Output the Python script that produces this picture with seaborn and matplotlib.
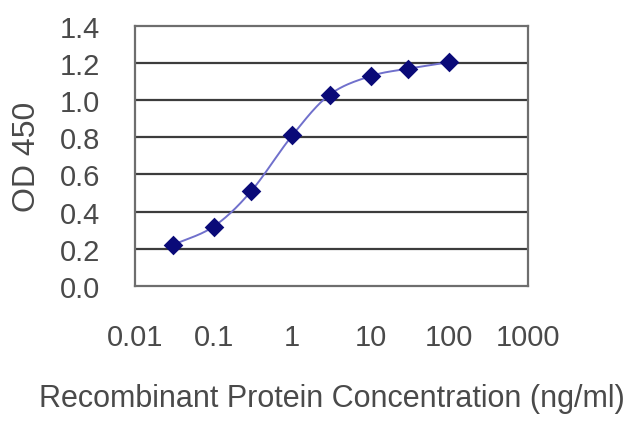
import numpy as np
import pandas as pd
import matplotlib
matplotlib.use("Agg")
import matplotlib.pyplot as plt
import seaborn as sns

# values
concentration = [0.03, 0.1, 0.3, 1, 3, 10, 30, 100]
od450 = [0.22, 0.32, 0.51, 0.81, 1.03, 1.13, 1.17, 1.205]
x_ticks = [0.01, 0.1, 1, 10, 100, 1000]
x_tick_labels = ["0.01", "0.1", "1", "10", "100", "1000"]
y_ticks = [0.0, 0.2, 0.4, 0.6, 0.8, 1.0, 1.2, 1.4]

points = pd.DataFrame({"conc": concentration, "od": od450})


# smoothed line through the points (Catmull-Rom in log-x space, like Excel's smooth line)
def smooth(xs, ys, n=30):
    lx = np.log10(xs)
    ys = np.asarray(ys, dtype=float)
    px = np.concatenate([[2 * lx[0] - lx[1]], lx, [2 * lx[-1] - lx[-2]]])
    py = np.concatenate([[2 * ys[0] - ys[1]], ys, [2 * ys[-1] - ys[-2]]])
    out_x, out_y = [], []
    t = np.linspace(0, 1, n)
    for i in range(1, len(px) - 2):
        for arr, out in ((px, out_x), (py, out_y)):
            p0, p1, p2, p3 = arr[i - 1], arr[i], arr[i + 1], arr[i + 2]
            seg = 0.5 * ((2 * p1) + (-p0 + p2) * t
                         + (2 * p0 - 5 * p1 + 4 * p2 - p3) * t ** 2
                         + (-p0 + 3 * p1 - 3 * p2 + p3) * t ** 3)
            out.extend(seg)
    return 10 ** np.array(out_x), np.array(out_y)


sx, sy = smooth(concentration, od450)
curve = pd.DataFrame({"conc": sx, "od": sy})

sns.set_theme(style="white")
plt.rcParams["font.family"] = ["Liberation Sans", "DejaVu Sans"]

fig = plt.figure(figsize=(6.4, 4.27), dpi=100)
ax = fig.add_axes([0.211, 0.328, 0.614, 0.609])

text_color = "#4a4a4a"

for yv in y_ticks[1:-1]:
    ax.axhline(yv, color="#3c3c3c", linewidth=1.6, zorder=1)

sns.lineplot(data=curve, x="conc", y="od", ax=ax, color="#7070cc",
             linewidth=1.4, sort=False, estimator=None, zorder=2)
sns.scatterplot(data=points, x="conc", y="od", ax=ax, marker="D", s=100,
                color="#0a0a78", edgecolor="#0a0a78", linewidth=0, zorder=3)

ax.set_xscale("log")
ax.set_xlim(0.01, 1000)
ax.set_ylim(0, 1.4)
ax.set_xticks(x_ticks)
ax.set_xticklabels(x_tick_labels)
ax.minorticks_off()
ax.set_yticks(y_ticks)
ax.set_yticklabels([f"{v:.1f}" for v in y_ticks])

ax.tick_params(axis="x", direction="in", length=6, width=1.2, color="#555555",
               pad=27, labelsize=21, labelcolor=text_color)
ax.tick_params(axis="y", length=0, pad=25, labelsize=21, labelcolor=text_color)

for sp in ax.spines.values():
    sp.set_color("#6e6e6e")
    sp.set_linewidth(1.6)

ax.set_xlabel("Recombinant Protein Concentration (ng/ml)", fontsize=22,
              color=text_color)
ax.xaxis.set_label_coords(0.5, -0.374)
ax.set_ylabel("OD 450", fontsize=23, color=text_color)
ax.yaxis.set_label_coords(-0.238, 0.5)

fig.savefig("out.png", dpi=100)
